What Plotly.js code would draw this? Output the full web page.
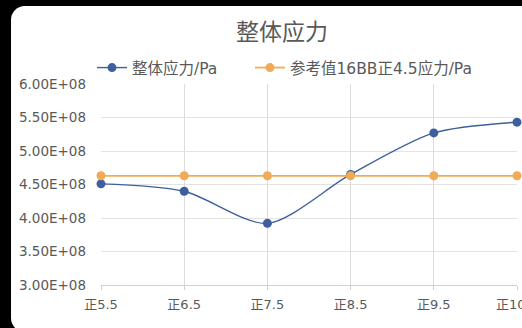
<!DOCTYPE html>
<html>
<head>
<meta charset="utf-8">
<script src="https://cdn.plot.ly/plotly-3.0.1.min.js"></script>
<style>
  html, body { margin: 0; padding: 0; width: 522px; height: 328px; overflow: hidden; background: #000; }
  #card { position: absolute; left: 11px; top: 6px; width: 560px; height: 326px; background: #fff; border-radius: 14px; }
  #chart { position: absolute; left: 0; top: 0; width: 557px; height: 328px; }
</style>
</head>
<body>
<div id="card"></div>
<div id="chart"></div>
<script>
// Positions along the sheet
const categories = ['正5.5', '正6.5', '正7.5', '正8.5', '正9.5', '正10.5'];
// Overall stress (Pa)
const stress = [4.51e8, 4.40e8, 3.92e8, 4.65e8, 5.27e8, 5.43e8];
// Reference value: 16BB at 正4.5 (Pa)
const reference = [4.63e8, 4.63e8, 4.63e8, 4.63e8, 4.63e8, 4.63e8];
// Y axis ticks
const yTickVals = [3.0e8, 3.5e8, 4.0e8, 4.5e8, 5.0e8, 5.5e8, 6.0e8];
const yTickText = ['3.00E+08', '3.50E+08', '4.00E+08', '4.50E+08', '5.00E+08', '5.50E+08', '6.00E+08'];

const textColor = '#595959';
const font = 'DejaVu Sans, Noto Sans CJK SC, sans-serif';
const cjkFont = 'Noto Sans CJK SC, sans-serif';

const traces = [
  {
    x: categories, y: stress, name: '整体应力/Pa', legend: 'legend',
    type: 'scatter', mode: 'lines+markers', cliponaxis: false,
    line: { color: '#3e5f9e', width: 1.4, shape: 'spline', smoothing: 0.8 },
    marker: { color: '#3e5f9e', size: 9 }
  },
  {
    x: categories, y: reference, name: '参考值16BB正4.5应力/Pa', legend: 'legend2',
    type: 'scatter', mode: 'lines+markers', cliponaxis: false,
    line: { color: '#efab55', width: 1.8 },
    marker: { color: '#efab55', size: 9 }
  }
];

// Shared look of the two legend boxes
function legendAt(px) {
  return {
    orientation: 'h',
    x: (px - 101) / 416, xanchor: 'left',
    y: 1 + (84 - 68) / 201, yanchor: 'middle',
    font: { family: font, size: 15.5, color: textColor },
    bgcolor: 'rgba(0,0,0,0)', borderwidth: 0
  };
}

const layout = {
  width: 557, height: 328,
  margin: { l: 101, r: 40, t: 84, b: 43 },
  paper_bgcolor: 'rgba(0,0,0,0)',
  plot_bgcolor: 'rgba(0,0,0,0)',
  font: { family: font, color: textColor, size: 13 },
  title: {
    text: '整体应力',
    font: { family: cjkFont, size: 23, color: textColor },
    x: 282 / 557, xanchor: 'center', xref: 'container',
    y: 1 - 32 / 328, yanchor: 'middle', yref: 'container'
  },
  showlegend: true,
  legend: legendAt(92),
  legend2: legendAt(250),
  xaxis: {
    type: 'category', range: [0, 5],
    showgrid: true, gridcolor: '#dcdcdc', gridwidth: 1,
    showline: true, linecolor: '#d0d0d0', linewidth: 1,
    ticks: 'outside', ticklen: 4, tickcolor: '#d0d0d0',
    ticklabelstandoff: 3,
    tickfont: { family: font, size: 13, color: textColor },
    zeroline: false, fixedrange: true
  },
  yaxis: {
    range: [3.0e8, 6.0e8],
    tickvals: yTickVals, ticktext: yTickText,
    showgrid: true, gridcolor: '#e3e3e3', gridwidth: 1,
    showline: false, zeroline: false, ticks: '',
    ticklabelstandoff: 14,
    tickfont: { family: font, size: 13.5, color: textColor },
    fixedrange: true
  }
};

Plotly.newPlot('chart', traces, layout, { displayModeBar: false, staticPlot: true });
</script>
</body>
</html>
